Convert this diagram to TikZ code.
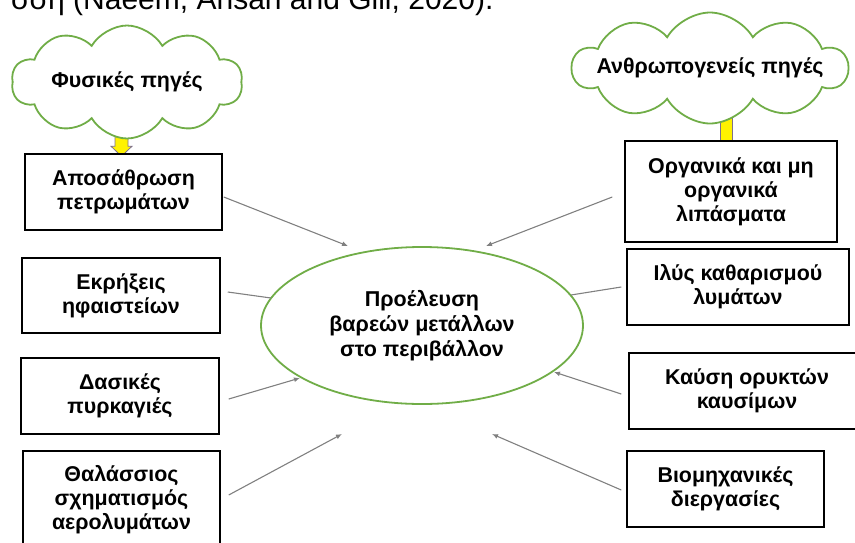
\documentclass[tikz,border=0pt]{standalone}
\usepackage{fontspec}
\setmainfont{Liberation Sans}
\usetikzlibrary{arrows.meta,positioning,shapes.symbols,shapes.geometric,backgrounds}
\definecolor{leafgreen}{RGB}{112,173,71}
\definecolor{linkgray}{RGB}{128,128,128}
\definecolor{baredge}{RGB}{125,112,140}

\begin{document}
\begin{tikzpicture}[x=1pt,y=-1pt,
 src/.style={cloud,cloud puffs=10,cloud puff arc=120,cloud ignores aspect,
 draw=leafgreen,line width=1.8pt,fill=white,inner xsep=-32pt,inner ysep=-8pt,
 font=\bfseries\fontsize{21.4}{24}\selectfont},
 box/.style={draw=black,line width=1.5pt,fill=white,align=center,
 inner sep=2pt,font=\bfseries\fontsize{21.4}{24}\selectfont},
 hub/.style={ellipse,draw=leafgreen,line width=1.8pt,fill=white,align=center,
 minimum width=322pt,minimum height=157pt,
 font=\bfseries\fontsize{21.5}{25}\selectfont},
 feed/.style={draw=linkgray,line width=1.1pt,-{Latex[length=6pt,width=5pt]}},
 stub/.style={draw=linkgray,line width=1.1pt},
 bar/.style={fill=yellow,draw=baredge,line width=0.8pt}]
\useasboundingbox (0,0) rectangle (855,542);
\clip (0,0) rectangle (855,542);
\node[anchor=base east,font=\fontsize{30}{36}\selectfont] (cite) at (497,9)
 {σση (Naeem, Ahsan and Gill, 2020).};
% sources
\node[src,minimum width=231pt,minimum height=113pt] (natsrc) at (127,82) {Φυσικές πηγές};
\node[src,minimum width=275pt,minimum height=111pt] (anthsrc) at (710,68) {Ανθρωπογενείς πηγές};
% left column
\node[box,minimum width=197pt,minimum height=76pt] (weathering) at (123.5,192) {Αποσάθρωση\\πετρωμάτων};
\node[box,minimum width=198pt,minimum height=75pt] (volcano) at (121,295.5) {Εκρήξεις\\ηφαιστείων};
\node[box,minimum width=198pt,minimum height=76pt] (fires) at (120,396) {Δασικές\\πυρκαγιές};
\node[box,minimum width=197pt,minimum height=98pt] (seasalt) at (121.5,500) {Θαλάσσιος\\σχηματισμός\\αερολυμάτων};
% right column
\node[box,minimum width=212pt,minimum height=101pt] (fertil) at (731,191.5) {Οργανικά και μη\\οργανικά\\λιπάσματα};
\node[box,minimum width=222pt,minimum height=76pt] (sludge) at (738,287) {Ιλύς καθαρισμού\\λυμάτων};
\node[box,minimum width=236pt,minimum height=76pt] (fuel) at (747,391) {Καύση ορυκτών\\καυσίμων};
\node[box,minimum width=197pt,minimum height=76pt] (industry) at (725.5,489) {Βιομηχανικές\\διεργασίες};
% centre
\node[hub] (origin) at (422,325.5) {Προέλευση\\βαρεών μετάλλων\\στο περιβάλλον};
% yellow bars behind clouds and boxes
\begin{pgfonlayer}{background}
\filldraw[bar] ([shift={(-8.5,-20)}]weathering.north) -- ([shift={(4.5,-20)}]weathering.north)
 -- ([shift={(4.5,-7)}]weathering.north) -- ([shift={(8.5,-7)}]weathering.north)
 -- ([shift={(-2,3)}]weathering.north) -- ([shift={(-12.5,-7)}]weathering.north)
 -- ([shift={(-8.5,-7)}]weathering.north) -- cycle;
\filldraw[bar] ([shift={(-11,-23)}]fertil.north) rectangle ([shift={(1,4)}]fertil.north);
\end{pgfonlayer}
% connectors
\coordinate (w-end) at (348,246);
\coordinate (f-end) at (300,378);
\coordinate (s-end) at (342,434);
\coordinate (o-end) at (486,246);
\coordinate (u-end) at (554,372);
\coordinate (i-end) at (492,434);
\coordinate (v-end) at (271,298);
\coordinate (g-end) at (571,295);
\foreach \src/\dx/\dy/\dst in {weathering.east/1/5/w-end,fires.east/9/3/f-end,
 seasalt.east/8/-5/s-end,fertil.west/-12/5.5/o-end,fuel.west/-7/3/u-end,industry.west/-5/1/i-end}
 \draw[feed] ([shift={(\dx,\dy)}]\src) -- (\dst);
\draw[stub] ([shift={(7,-3.5)}]volcano.east) -- (v-end);
\draw[stub] ([shift={(-5,0)}]sludge.west) -- (g-end);
\end{tikzpicture}
\end{document}
